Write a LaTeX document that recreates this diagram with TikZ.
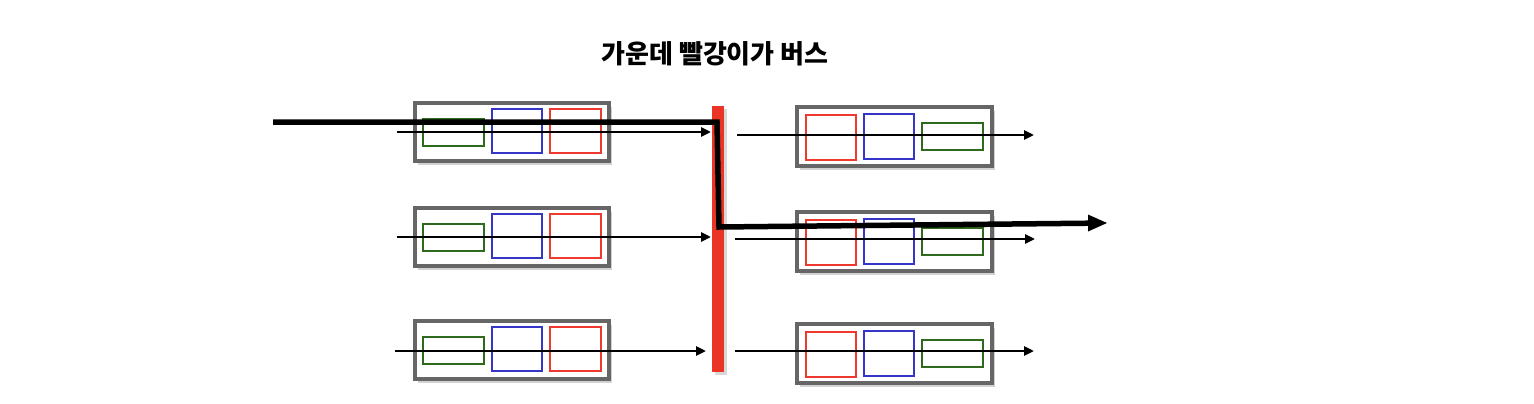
\documentclass[tikz,border=0pt]{standalone}
\usepackage{fontspec}
\newfontfamily\kr{Noto Sans CJK KR}
\usetikzlibrary{arrows.meta,shadows}
\definecolor{boxgray}{HTML}{666666}
\definecolor{cred}{HTML}{EE3A2E}
\definecolor{cblue}{HTML}{3535C8}
\definecolor{cgreen}{HTML}{2F6A1C}
\definecolor{busred}{HTML}{EA3526}
\begin{document}
\begin{tikzpicture}[x=1pt,y=-1pt,
  frame/.style={draw=boxgray,line width=3.8pt,fill=white,drop shadow={shadow xshift=3pt,shadow yshift=-4pt,opacity=0.25,fill=black!70}},
  rbox/.style={draw=cred,line width=2.8pt},
  bbox/.style={draw=cblue,line width=2.8pt},
  gbox/.style={draw=cgreen,line width=2.8pt},
  flow/.style={draw=black,line width=2.8pt,-{Triangle[length=10pt,width=9pt]}}]
\useasboundingbox (0,0) rectangle (1534,404);
\node[font=\kr\bfseries\fontsize{26}{30}\selectfont] (title) at (715,54) {가운데 빨강이가 버스};
% left boxes
\foreach \n/\dy in {1/0,2/105,3/218}{
  \begin{scope}[yshift=-\dy pt]
  \path[frame] (415,103) rectangle (609,161);
  \draw[gbox] (423,119) rectangle (484,146);
  \draw[bbox] (492,109) rectangle (542,153);
  \draw[rbox] (550,109) rectangle (601,153);
  \end{scope}
}
% right boxes
\foreach \n/\dy in {1/0,2/105,3/217}{
  \begin{scope}[yshift=-\dy pt]
  \path[frame] (797,107) rectangle (992,166);
  \draw[rbox] (806,115) rectangle (856,160);
  \draw[bbox] (864,114) rectangle (914,159);
  \draw[gbox] (922,123) rectangle (983,150);
  \end{scope}
}
% bus
\path[fill=busred,drop shadow={shadow xshift=3pt,shadow yshift=-3pt,opacity=0.22,fill=black!70}] (712,106) rectangle (724,372);
\node[inner sep=0pt] (bus) at (718,239) {};
% coordinates for flows
\coordinate (l1s) at (397,132); \coordinate (l1e) at (711,132);
\coordinate (l2s) at (397,237); \coordinate (l2e) at (711,237);
\coordinate (l3s) at (395,351); \coordinate (l3e) at (706,351);
\coordinate (r1s) at (737,135); \coordinate (r1e) at (1034,135);
\coordinate (r2s) at (735,239); \coordinate (r2e) at (1035,239);
\coordinate (r3s) at (735,351); \coordinate (r3e) at (1034,351);
\draw[flow] (l1s) -- (l1e);
\draw[flow] (l2s) -- (l2e);
\draw[flow] (l3s) -- (l3e);
\draw[flow] (r1s) -- (r1e);
\draw[flow] (r2s) -- (r2e);
\draw[flow] (r3s) -- (r3e);
% thick path
\coordinate (ps) at (273,122);
\coordinate (pc1) at (717,122);
\coordinate (pc2) at (719,227);
\coordinate (pm) at (1090,223.2);
\coordinate (pe) at (1107,223);
\draw[black,line width=5.5pt,line join=miter] (ps) -- (pc1) -- (pc2) -- (pm);
\fill[black] (pe) -- (1088,214.5) -- (1088,231.5) -- cycle;
\end{tikzpicture}
\end{document}
